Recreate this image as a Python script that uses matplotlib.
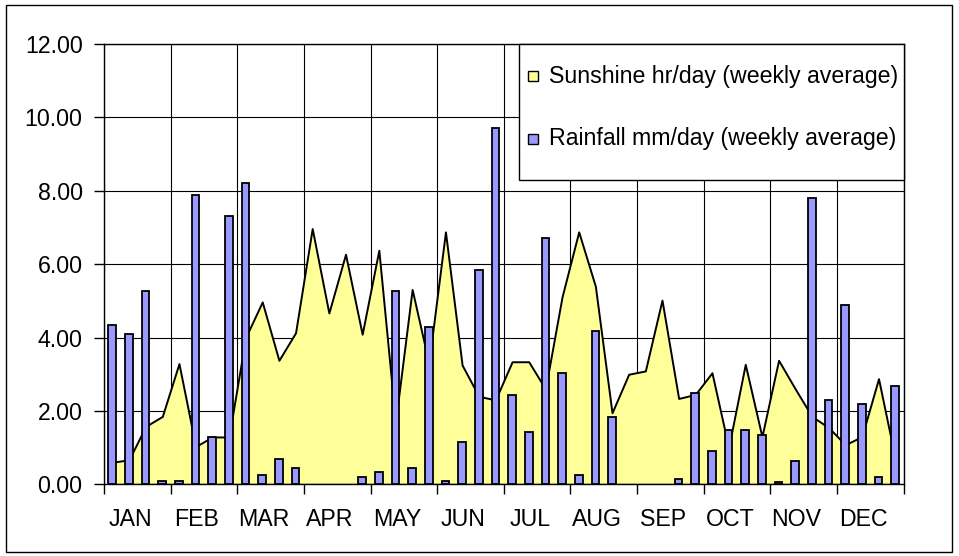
import matplotlib
matplotlib.use("Agg")
import matplotlib.pyplot as plt
import matplotlib.transforms as mtransforms
from matplotlib.patches import Rectangle
from matplotlib.ticker import FormatStrFormatter
import numpy as np

months = ["JAN", "FEB", "MAR", "APR", "MAY", "JUN",
          "JUL", "AUG", "SEP", "OCT", "NOV", "DEC"]

# weekly averages, 4 weeks per month
sunshine = [0.60, 0.67, 1.58, 1.85, 3.29, 1.03, 1.29, 1.29,
            4.00, 4.97, 3.38, 4.13, 6.97, 4.67, 6.27, 4.09,
            6.38, 1.70, 5.31, 3.30, 6.88, 3.25, 2.40, 2.30,
            3.34, 3.34, 2.60, 5.11, 6.88, 5.40, 1.95, 3.00,
            3.09, 5.02, 2.34, 2.45, 3.04, 1.00, 3.27, 1.30,
            3.38, 2.60, 1.85, 1.55, 1.08, 1.30, 2.88, 0.70]
rainfall = [4.34, 4.09, 5.27, 0.09, 0.09, 7.88, 1.29, 7.32,
            8.22, 0.25, 0.69, 0.44, 0.00, 0.00, 0.00, 0.20,
            0.33, 5.27, 0.44, 4.29, 0.09, 1.14, 5.84, 9.72,
            2.43, 1.43, 6.72, 3.04, 0.25, 4.18, 1.84, 0.00,
            0.00, 0.00, 0.14, 2.49, 0.90, 1.49, 1.49, 1.34,
            0.05, 0.64, 7.81, 2.29, 4.88, 2.18, 0.20, 2.68]
labels = ["Sunshine hr/day (weekly average)", "Rainfall mm/day (weekly average)"]
colors = ["#FFFF99", "#9999FF"]

plt.rcParams["font.family"] = ["Liberation Sans", "DejaVu Sans"]
FS = 16.7

W, H = 959, 556
fig = plt.figure(figsize=(W / 100, H / 100), dpi=100)
ax = fig.add_axes([104 / W, (H - 484.3) / H, 799.5 / W, 440.3 / H])

x = np.arange(len(sunshine))
rain = np.array(rainfall)
wet = rain > 0  # dry weeks draw no column at all
ax.fill_between(x, sunshine, 0, facecolor=colors[0], edgecolor="black",
                lw=1.4, zorder=2)
ax.bar(x[wet], rain[wet], width=0.46, color=colors[1], edgecolor="black",
       lw=1.3, zorder=3)

ax.set_xlim(-0.5, len(x) - 0.5)
ax.set_ylim(0, 12)
ax.set_yticks(np.arange(0, 13, 2))
ax.yaxis.set_major_formatter(FormatStrFormatter("%.2f"))
ax.set_xticks(np.arange(-0.5, len(x), 4))
ax.set_xticklabels([])
ax.set_xticks(np.arange(1.5, len(x), 4), minor=True)
ax.set_xticklabels(months, minor=True)

ax.tick_params(which="major", direction="out", length=7, width=1,
               color="black", labelsize=FS)
ax.tick_params(axis="y", pad=8.4)
ax.tick_params(axis="x", which="minor", length=0, pad=17, labelsize=FS)
shift = mtransforms.ScaledTranslation(-7 / 100, 0, fig.dpi_scale_trans)
for t in ax.get_xticklabels(minor=True):
    t.set_transform(t.get_transform() + shift)
ax.grid(True, which="major", color="black", lw=0.8)
ax.set_axisbelow(True)
for s in ax.spines.values():
    s.set_color("black")
    s.set_linewidth(1)

# legend box in the top right corner of the plot
lx0 = (519.3 - 104) / 799.5
ly0 = (484.3 - 180) / 440.3
ax.add_patch(Rectangle((lx0, ly0), 1 - lx0, 1 - ly0, transform=ax.transAxes,
                       facecolor="white", edgecolor="black", lw=1,
                       zorder=5, clip_on=False))
for row, (lab, col) in enumerate(zip(labels, colors)):
    yc = (484.3 - (76 + 63 * row)) / 440.3
    ax.add_patch(Rectangle(((528 - 104) / 799.5, yc - 5 / 440.3),
                           10 / 799.5, 10 / 440.3, transform=ax.transAxes,
                           facecolor=col, edgecolor="black", lw=1,
                           zorder=6, clip_on=False))
    ax.text((549.3 - 104) / 799.5, yc, lab, transform=ax.transAxes,
            fontsize=FS, va="center", ha="left", zorder=6)

# outer chart border
fig.add_artist(Rectangle((6 / W, 4 / H), 946 / W, 547 / H,
                         transform=fig.transFigure, fill=False,
                         edgecolor="black", lw=1))

fig.savefig("out.png", dpi=100)
